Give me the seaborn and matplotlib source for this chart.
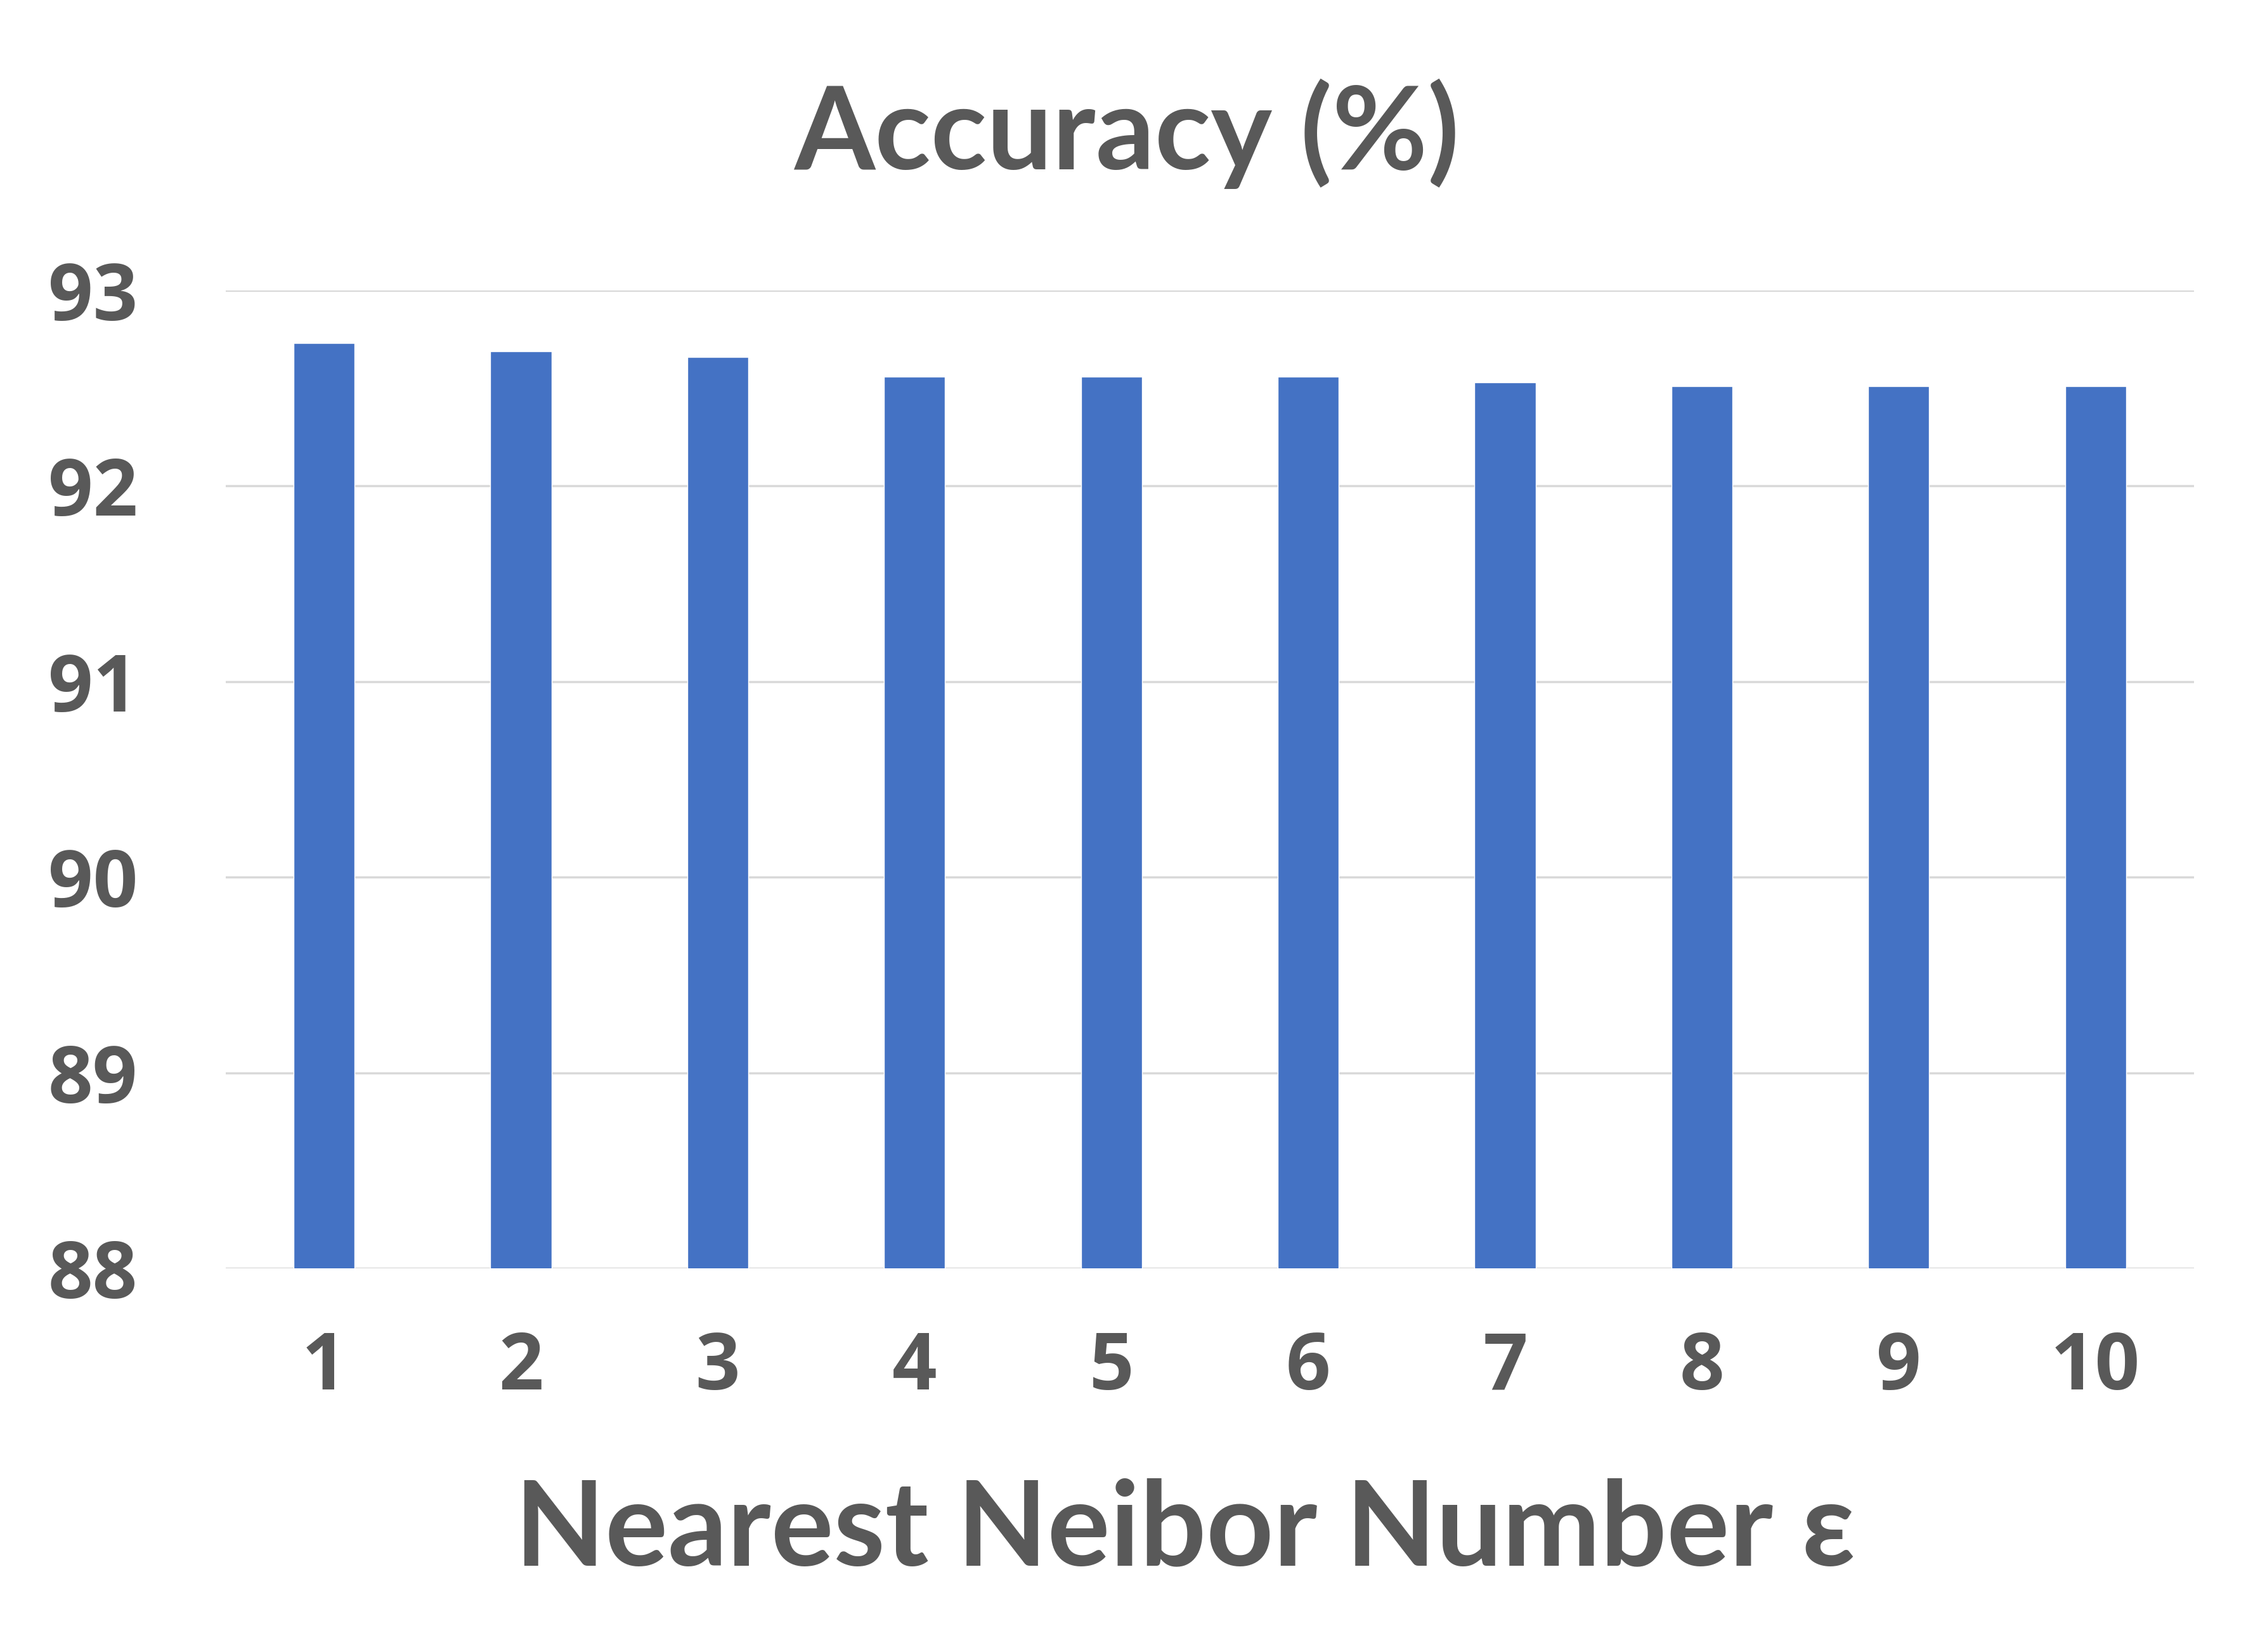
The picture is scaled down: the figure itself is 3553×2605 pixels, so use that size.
import matplotlib
matplotlib.use("Agg")
import matplotlib.pyplot as plt
import seaborn as sns

# data
neighbors = ["1", "2", "3", "4", "5", "6", "7", "8", "9", "10"]
accuracy = [92.73, 92.69, 92.66, 92.56, 92.56, 92.56, 92.53, 92.51, 92.51, 92.51]
y_ticks = [88, 89, 90, 91, 92, 93]

sns.set_theme(style="white")
plt.rcParams["font.family"] = ["Lato", "DejaVu Sans"]
plt.rcParams["font.weight"] = "bold"

text_color = "#595959"
bar_color = "#4472C4"

fig = plt.figure(figsize=(35.53, 26.05), dpi=100)
ax = fig.add_axes([0.1002, 0.2322, 0.8736, 0.592])

sns.barplot(x=neighbors, y=accuracy, color=bar_color, width=0.31,
            saturation=1, ax=ax, zorder=3)

ax.set_ylim(88, 93)
ax.set_xlim(-0.5, len(neighbors) - 0.5)
ax.yaxis.grid(True, color="#d9d9d9", linewidth=2.5, zorder=0)
ax.xaxis.grid(False)
for s in ax.spines.values():
    s.set_visible(False)

# lining figures like the original
ax.set_yticks(y_ticks)
ax.set_yticklabels([str(t) for t in y_ticks])
ax.set_xticks(range(len(neighbors)))
ax.set_xticklabels(neighbors)
ax.tick_params(axis="y", length=0, pad=100, labelsize=89,
               labelcolor=text_color, labelfontfamily="Open Sans")
ax.tick_params(axis="x", length=0, pad=70, labelsize=89,
               labelcolor=text_color, labelfontfamily="Open Sans")
for lab in ax.get_xticklabels() + ax.get_yticklabels():
    lab.set_fontweight("bold")

ax.set_xlabel("")
ax.set_ylabel("")

fig.text(0.5, 0.919, "Accuracy (%)", ha="center", va="center",
         fontsize=132, fontweight="bold", color=text_color)
fig.text(0.526, 0.073, "Nearest Neibor Number ε", ha="center", va="center",
         fontsize=133, fontweight="bold", color=text_color,
         family=["Lato", "DejaVu Sans"])

fig.savefig("out.png", dpi=100, facecolor="white")
